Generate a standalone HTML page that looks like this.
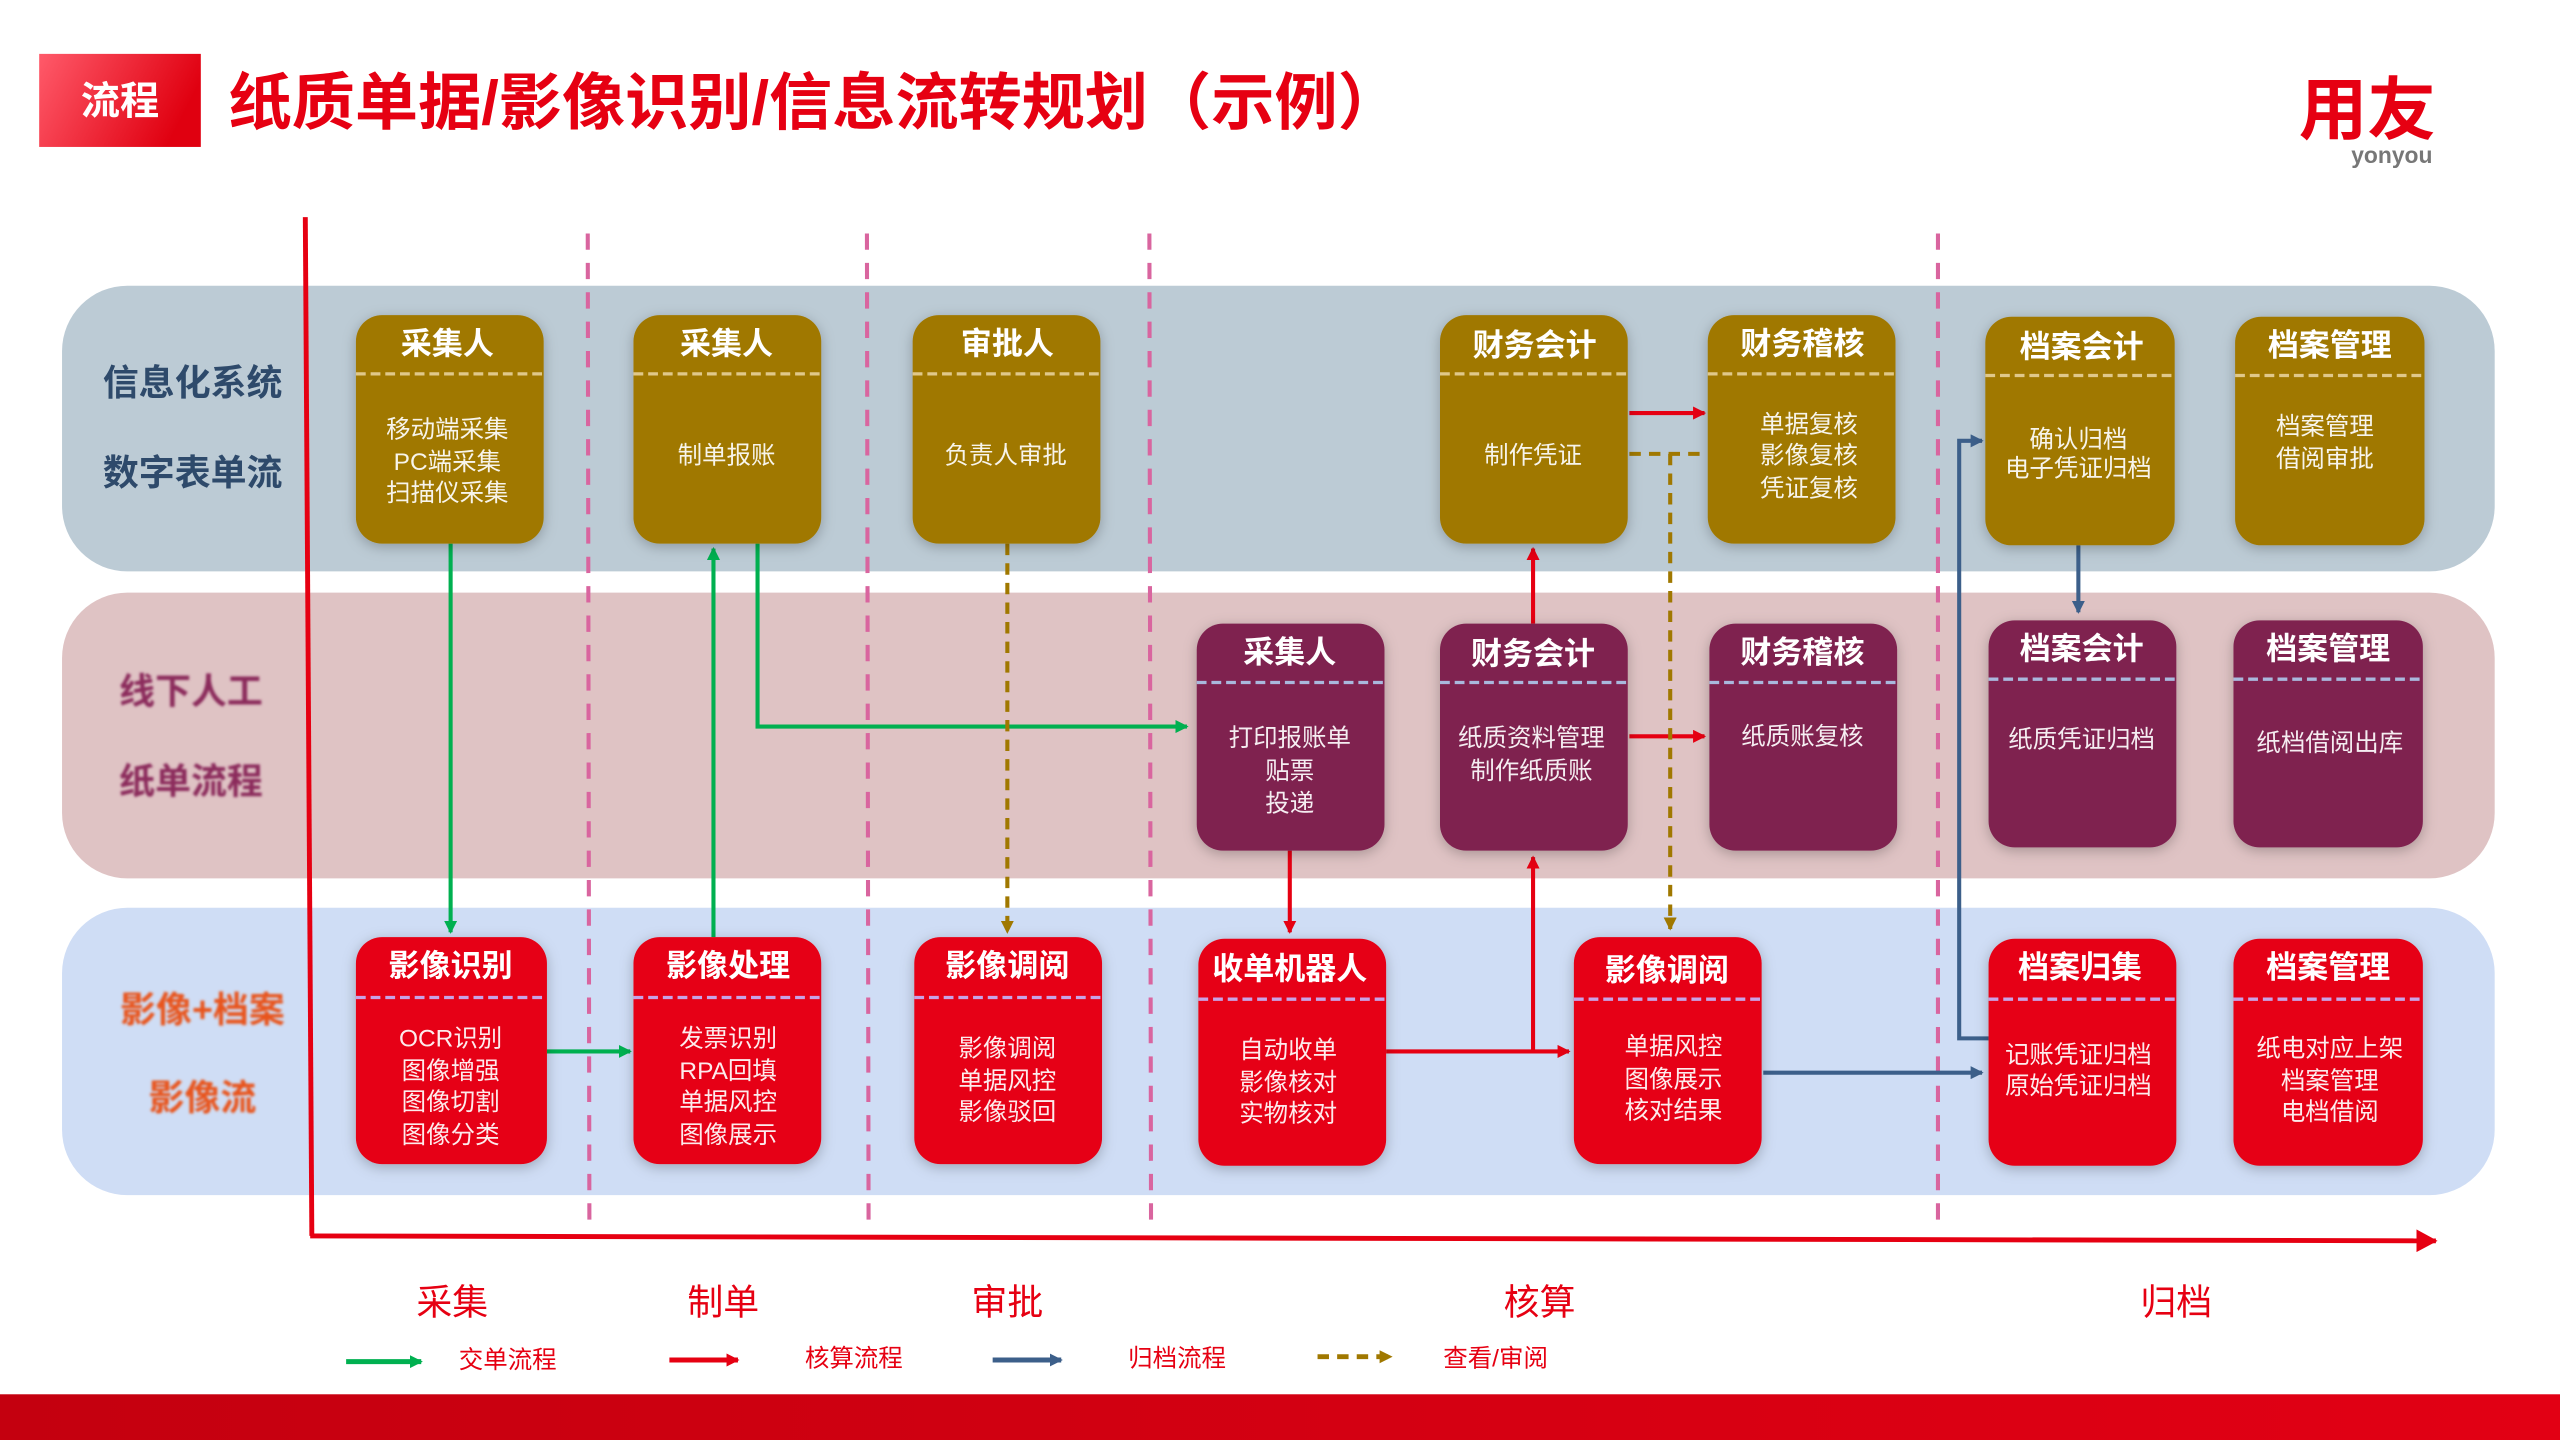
<!DOCTYPE html>
<html><head><meta charset="utf-8"><style>
html,body{margin:0;padding:0;background:#fff;width:2560px;height:1440px;overflow:hidden}
svg{display:block}
text{font-family:"Liberation Sans","Noto Sans CJK SC",sans-serif}
</style></head><body>
<svg width="2560" height="1440" viewBox="0 0 1568 882" preserveAspectRatio="none" xmlns="http://www.w3.org/2000/svg">
<defs>
<linearGradient id="badge" x1="0" y1="0" x2="1" y2="0.3"><stop offset="0" stop-color="#ff5a6a"/><stop offset="1" stop-color="#e00010"/></linearGradient>
<linearGradient id="foot" x1="0" x2="1"><stop offset="0" stop-color="#c4000f"/><stop offset="1" stop-color="#e20014"/></linearGradient>
<filter id="sh" x="-20%" y="-20%" width="140%" height="140%"><feDropShadow dx="0" dy="2" stdDeviation="4" flood-color="#000" flood-opacity="0.25"/></filter>
<filter id="bl"><feGaussianBlur stdDeviation="0.8"/></filter>
<marker id="ag" markerWidth="8" markerHeight="8" refX="7" refY="4" orient="auto" markerUnits="userSpaceOnUse"><path d="M0,0 L8,4 L0,8z" fill="#00b050"/></marker>
<marker id="ar" markerWidth="8" markerHeight="8" refX="7" refY="4" orient="auto" markerUnits="userSpaceOnUse"><path d="M0,0 L8,4 L0,8z" fill="#e60012"/></marker>
<marker id="ab" markerWidth="8" markerHeight="8" refX="7" refY="4" orient="auto" markerUnits="userSpaceOnUse"><path d="M0,0 L8,4 L0,8z" fill="#3c5f8a"/></marker>
<marker id="ay" markerWidth="8" markerHeight="8" refX="7" refY="4" orient="auto" markerUnits="userSpaceOnUse"><path d="M0,0 L8,4 L0,8z" fill="#a07800"/></marker>
<marker id="aR" markerWidth="14" markerHeight="14" refX="12" refY="7" orient="auto" markerUnits="userSpaceOnUse"><path d="M0,0 L13,7 L0,14z" fill="#e60012"/></marker>
</defs>

<!-- header -->
<rect x="24" y="33" width="99" height="57" fill="url(#badge)"/>
<text x="73.5" y="70" font-size="24" font-weight="bold" fill="#fff" text-anchor="middle">流程</text>
<text x="140" y="76" font-size="38" font-weight="bold" fill="#e60012" textLength="718" lengthAdjust="spacingAndGlyphs">纸质单据/影像识别/信息流转规划（示例）</text>
<text x="1450" y="82" font-size="42" font-weight="bold" fill="#e60012" text-anchor="middle" textLength="84" lengthAdjust="spacingAndGlyphs">用友</text>
<text x="1465" y="100" font-size="14" font-weight="bold" fill="#777" text-anchor="middle">yonyou</text>

<!-- bands -->
<rect x="38" y="175" width="1490" height="175" rx="40" fill="#bccbd5"/>
<rect x="38" y="363" width="1490" height="175" rx="40" fill="#dfc3c4"/>
<rect x="38" y="556" width="1490" height="176" rx="40" fill="#cfddf5"/>

<!-- dashed separators -->
<g stroke="#d9659f" stroke-width="2.5" stroke-dasharray="10,8">
<line x1="360" y1="143" x2="361" y2="748"/>
<line x1="531" y1="143" x2="532" y2="748"/>
<line x1="704" y1="143" x2="705" y2="748"/>
<line x1="1187" y1="143" x2="1187" y2="748"/>
</g>

<!-- axes -->
<line x1="187" y1="133" x2="191" y2="757" stroke="#e60012" stroke-width="3"/>
<line x1="190" y1="757" x2="1492" y2="760" stroke="#e60012" stroke-width="3" marker-end="url(#aR)"/>

<!-- row labels -->
<g font-size="22" font-weight="bold" text-anchor="middle">
<text x="118" y="242" fill="#2e4a6b">信息化系统</text>
<text x="118" y="297" fill="#2e4a6b">数字表单流</text>
<g filter="url(#bl)">
<text x="117" y="431" fill="#8b2a5b">线下人工</text>
<text x="117" y="486" fill="#8b2a5b">纸单流程</text>
<text x="124" y="626" fill="#e8541e">影像+档案</text>
<text x="124" y="680" fill="#e8541e">影像流</text>
</g>
</g>

<!-- connectors -->
<g fill="none" stroke-width="2.5">
<path d="M276,333 V571" stroke="#00b050" marker-end="url(#ag)"/>
<path d="M437,574 V336" stroke="#00b050" marker-end="url(#ag)"/>
<path d="M464,333 V445 H727" stroke="#00b050" marker-end="url(#ag)"/>
<path d="M335,644 H386" stroke="#00b050" marker-end="url(#ag)"/>
<path d="M998,253 H1044" stroke="#e60012" marker-end="url(#ar)"/>
<path d="M939,382 V336" stroke="#e60012" marker-end="url(#ar)"/>
<path d="M998,451 H1044" stroke="#e60012" marker-end="url(#ar)"/>
<path d="M790,521 V571" stroke="#e60012" marker-end="url(#ar)"/>
<path d="M849,644 H961" stroke="#e60012" marker-end="url(#ar)"/>
<path d="M939,644 V525" stroke="#e60012" marker-end="url(#ar)"/>
<path d="M617,333 V571" stroke="#a07800" stroke-dasharray="7,5" marker-end="url(#ay)"/>
<path d="M998,278 H1046" stroke="#a07800" stroke-dasharray="7,5"/>
<path d="M1023,278 V569" stroke="#a07800" stroke-dasharray="7,5" marker-end="url(#ay)"/>
<path d="M1273,334 V375" stroke="#3c5f8a" marker-end="url(#ab)"/>
<path d="M1080,657 H1214" stroke="#3c5f8a" marker-end="url(#ab)"/>
<path d="M1218,636 H1200 V270 H1214" stroke="#3c5f8a" marker-end="url(#ab)"/>
</g>

<!-- boxes: row 1 gold -->
<g filter="url(#sh)">
<rect x="218" y="193" width="115" height="140" rx="16" fill="#a07800"/>
<rect x="388" y="193" width="115" height="140" rx="16" fill="#a07800"/>
<rect x="559" y="193" width="115" height="140" rx="16" fill="#a07800"/>
<rect x="882" y="193" width="115" height="140" rx="16" fill="#a07800"/>
<rect x="1046" y="193" width="115" height="140" rx="16" fill="#a07800"/>
<rect x="1216" y="194" width="116" height="140" rx="16" fill="#a07800"/>
<rect x="1369" y="194" width="116" height="140" rx="16" fill="#a07800"/>
<!-- row 2 purple -->
<rect x="733" y="382" width="115" height="139" rx="16" fill="#7f2050"/>
<rect x="882" y="382" width="115" height="139" rx="16" fill="#7f2050"/>
<rect x="1047" y="382" width="115" height="139" rx="16" fill="#7f2050"/>
<rect x="1218" y="380" width="115" height="139" rx="16" fill="#7f2050"/>
<rect x="1368" y="380" width="116" height="139" rx="16" fill="#7f2050"/>
<!-- row 3 red -->
<rect x="218" y="574" width="117" height="139" rx="16" fill="#e60012"/>
<rect x="388" y="574" width="115" height="139" rx="16" fill="#e60012"/>
<rect x="560" y="574" width="115" height="139" rx="16" fill="#e60012"/>
<rect x="734" y="575" width="115" height="139" rx="16" fill="#e60012"/>
<rect x="964" y="574" width="115" height="139" rx="16" fill="#e60012"/>
<rect x="1218" y="575" width="115" height="139" rx="16" fill="#e60012"/>
<rect x="1368" y="575" width="116" height="139" rx="16" fill="#e60012"/>
</g>

<!-- header dividers -->
<g stroke-width="2" stroke-dasharray="6,3">
<g stroke="#e0c88a">
<line x1="218" y1="229" x2="333" y2="229"/><line x1="388" y1="229" x2="503" y2="229"/>
<line x1="559" y1="229" x2="674" y2="229"/><line x1="882" y1="229" x2="997" y2="229"/>
<line x1="1046" y1="229" x2="1161" y2="229"/><line x1="1216" y1="230" x2="1332" y2="230"/>
<line x1="1369" y1="230" x2="1485" y2="230"/>
</g>
<g stroke="#a9b8dd">
<line x1="733" y1="418" x2="848" y2="418"/><line x1="882" y1="418" x2="997" y2="418"/>
<line x1="1047" y1="418" x2="1162" y2="418"/><line x1="1218" y1="416" x2="1333" y2="416"/>
<line x1="1368" y1="416" x2="1484" y2="416"/>
</g>
<g stroke="#c8a3e6">
<line x1="218" y1="611" x2="335" y2="611"/><line x1="388" y1="611" x2="503" y2="611"/>
<line x1="560" y1="611" x2="675" y2="611"/><line x1="734" y1="612" x2="849" y2="612"/>
<line x1="964" y1="612" x2="1079" y2="612"/><line x1="1218" y1="612" x2="1333" y2="612"/>
<line x1="1368" y1="612" x2="1484" y2="612"/>
</g>
</g>

<!-- header titles -->
<g fill="#fff" font-size="19" font-weight="bold" text-anchor="middle">
<text x="274" y="217">采集人</text><text x="445" y="217">采集人</text><text x="617" y="217">审批人</text>
<text x="940" y="218">财务会计</text><text x="1104" y="217">财务稽核</text><text x="1275" y="219">档案会计</text>
<text x="1427" y="218">档案管理</text>
<text x="790" y="406">采集人</text><text x="939" y="407">财务会计</text><text x="1104" y="406">财务稽核</text>
<text x="1275" y="404">档案会计</text><text x="1426" y="404">档案管理</text>
<text x="276" y="598">影像识别</text><text x="446" y="598">影像处理</text><text x="617" y="598">影像调阅</text>
<text x="790" y="600">收单机器人</text><text x="1021" y="601">影像调阅</text><text x="1274" y="599">档案归集</text>
<text x="1426" y="599">档案管理</text>
</g>

<!-- body text -->
<g fill="#fff" font-size="15" text-anchor="middle" opacity="0.92">
<text x="274" y="268">移动端采集</text><text x="274" y="288">PC端采集</text><text x="274" y="307">扫描仪采集</text>
<text x="445" y="284">制单报账</text>
<text x="616" y="284">负责人审批</text>
<text x="939" y="284">制作凭证</text>
<text x="1108" y="265">单据复核</text><text x="1108" y="284">影像复核</text><text x="1108" y="304">凭证复核</text>
<text x="1273" y="274">确认归档</text><text x="1273" y="292">电子凭证归档</text>
<text x="1424" y="266">档案管理</text><text x="1424" y="286">借阅审批</text>
<text x="790" y="457">打印报账单</text><text x="790" y="477">贴票</text><text x="790" y="497">投递</text>
<text x="938" y="457">纸质资料管理</text><text x="938" y="477">制作纸质账</text>
<text x="1104" y="456">纸质账复核</text>
<text x="1275" y="458">纸质凭证归档</text>
<text x="1427" y="460">纸档借阅出库</text>
<text x="276" y="641">OCR识别</text><text x="276" y="661">图像增强</text><text x="276" y="680">图像切割</text><text x="276" y="700">图像分类</text>
<text x="446" y="641">发票识别</text><text x="446" y="661">RPA回填</text><text x="446" y="680">单据风控</text><text x="446" y="700">图像展示</text>
<text x="617" y="647">影像调阅</text><text x="617" y="667">单据风控</text><text x="617" y="686">影像驳回</text>
<text x="789" y="648">自动收单</text><text x="789" y="668">影像核对</text><text x="789" y="687">实物核对</text>
<text x="1025" y="646">单据风控</text><text x="1025" y="666">图像展示</text><text x="1025" y="685">核对结果</text>
<text x="1273" y="651">记账凭证归档</text><text x="1273" y="670">原始凭证归档</text>
<text x="1427" y="647">纸电对应上架</text><text x="1427" y="667">档案管理</text><text x="1427" y="686">电档借阅</text>
</g>

<!-- phase labels -->
<g fill="#e60012" font-size="22" text-anchor="middle">
<text x="277" y="805">采集</text><text x="443" y="805">制单</text><text x="617" y="805">审批</text>
<text x="943" y="805">核算</text><text x="1333" y="805">归档</text>
</g>

<!-- legend -->
<g stroke-width="3" fill="none">
<line x1="212" y1="834" x2="258" y2="834" stroke="#00b050" marker-end="url(#ag)"/>
<line x1="410" y1="833" x2="452" y2="833" stroke="#e60012" marker-end="url(#ar)"/>
<line x1="608" y1="833" x2="650" y2="833" stroke="#3c5f8a" marker-end="url(#ab)"/>
<line x1="807" y1="831" x2="852" y2="831" stroke="#a07800" stroke-dasharray="7,5" marker-end="url(#ay)"/>
</g>
<g fill="#e60012" font-size="15">
<text x="281" y="838">交单流程</text><text x="493" y="837">核算流程</text>
<text x="691" y="837">归档流程</text><text x="884" y="837">查看/审阅</text>
</g>

<!-- footer -->
<rect x="0" y="854" width="1568" height="28" fill="url(#foot)"/>
</svg>
</body></html>
